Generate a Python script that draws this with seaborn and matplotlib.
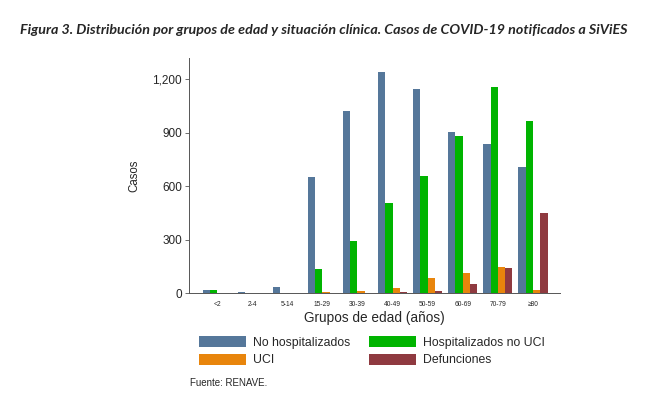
import matplotlib
matplotlib.use("Agg")
import matplotlib.pyplot as plt
import seaborn as sns
import pandas as pd
from matplotlib.ticker import FuncFormatter
from matplotlib.patches import Patch

grupos = ["<2", "2-4", "5-14", "15-29", "30-39", "40-49", "50-59", "60-69", "70-79", "≥80"]
no_hospitalizados = [19, 4, 34, 653, 1020, 1241, 1146, 904, 837, 709]
hospitalizados_no_uci = [17, 2, 1, 137, 294, 505, 657, 880, 1157, 964]
uci = [0, 0, 0, 6, 13, 28, 82, 114, 144, 19]
defunciones = [0, 0, 0, 1, 1, 4, 9, 52, 140, 446]
series = ["No hospitalizados", "Hospitalizados no UCI", "UCI", "Defunciones"]
colores = ["#55779a", "#00b400", "#e8850c", "#8f3a40"]

df = pd.DataFrame({"grupo": grupos,
                   series[0]: no_hospitalizados,
                   series[1]: hospitalizados_no_uci,
                   series[2]: uci,
                   series[3]: defunciones})
long = df.melt(id_vars="grupo", var_name="situacion", value_name="casos")

sns.set_theme(style="white")
plt.rcParams["font.family"] = ["Liberation Sans", "DejaVu Sans"]

fig = plt.figure(figsize=(6.48, 3.96), dpi=100)
ax = fig.add_axes([189/648, 1-293/396, (560-189)/648, (293-58)/396])

sns.barplot(data=long, x="grupo", y="casos", hue="situacion", hue_order=series,
            order=grupos, palette=colores, width=0.83, gap=0, ax=ax,
            saturation=1, legend=False, edgecolor="none")

ax.set_xlim(-0.8, 9.77)
ax.set_ylim(0, 1318)
ax.set_yticks([0, 300, 600, 900, 1200])
ax.yaxis.set_major_formatter(FuncFormatter(lambda v, p: f"{int(v):,}"))
ax.tick_params(axis="y", labelsize=8.5, length=3, width=0.6, color="#555555", left=True, pad=2)
ax.tick_params(axis="x", labelsize=4.8, length=0, pad=6)
for s in ["top", "right"]:
    ax.spines[s].set_visible(False)
for s in ["left", "bottom"]:
    ax.spines[s].set_color("#555555")
    ax.spines[s].set_linewidth(0.7)
ax.set_ylabel("Casos", fontsize=8.3, labelpad=9)
ax.set_xlabel("Grupos de edad (años)", fontsize=9.8, labelpad=2)

handles = [Patch(facecolor=c, edgecolor="none") for c in colores]
order = [0, 2, 1, 3]
fig.legend([handles[i] for i in order], [series[i] for i in order],
           loc="upper left", bbox_to_anchor=(199/648, 1-336/396), ncol=2,
           frameon=False, fontsize=8.8, handlelength=3.85, handleheight=1.0,
           handletextpad=0.55, columnspacing=1.55, labelspacing=0.42, borderaxespad=0,
           borderpad=0)

fig.text(190/648, 1-383/396, "Fuente: RENAVE.", fontsize=7, va="center", ha="left")
fig.text(20/648, 1-30/396,
         "Figura 3. Distribución por grupos de edad y situación clínica. Casos de COVID-19 notificados a SiViES",
         fontsize=10.3, fontstyle="italic", fontweight="bold", family=["Lato", "DejaVu Sans"],
         va="center", ha="left")

fig.savefig("out.png", dpi=100)
